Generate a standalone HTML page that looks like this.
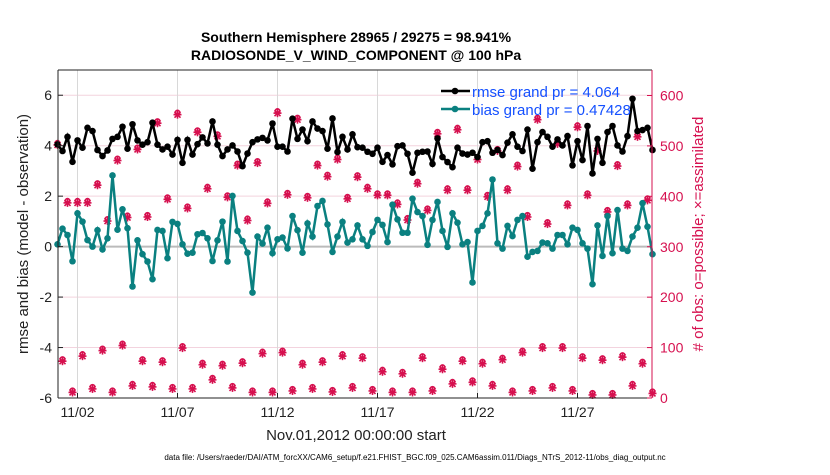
<!DOCTYPE html>
<html><head><meta charset="utf-8"><style>
body{margin:0;background:#fff;width:830px;height:470px;overflow:hidden;font-family:"Liberation Sans",sans-serif}
</style></head><body>
<svg id="chart" width="830" height="470" xmlns="http://www.w3.org/2000/svg" font-family="Liberation Sans, sans-serif"></svg>
<script>
const rmseValues=[4.05,3.79,4.35,3.36,4.21,3.92,4.71,4.58,3.83,3.59,3.81,4.27,4.35,4.75,3.88,4.85,4.21,4.04,4.14,4.91,4.04,3.85,3.96,3.65,4.23,3.32,4.23,3.65,4.06,4.33,4.09,4.96,4.04,3.59,3.85,4.01,3.77,3.19,3.69,4.14,4.25,
4.31,4.21,4.88,3.96,3.96,3.77,5.07,4.27,4.64,4.18,4.96,4.68,4.58,3.88,5.08,3.75,4.35,3.85,4.45,3.94,3.92,3.76,3.68,3.92,3.36,3.63,3.26,3.98,4.01,3.68,2.93,3.72,3.76,3.77,3.28,4.29,3.55,3.35,3.15,3.92,
3.69,3.65,3.72,3.55,4.14,4.18,3.72,3.83,3.63,4.12,4.45,3.96,3.79,4.64,3.09,4.14,4.54,4.35,3.96,4.25,4.01,4.38,3.22,4.18,3.43,4.78,2.90,4.27,3.32,4.54,4.78,4.01,3.77,4.38,5.86,4.58,4.62,4.71,3.83];
const biasValues=[0.09,0.71,0.46,-0.58,1.32,0.99,0.26,0,0.65,-0.11,0.33,2.82,0.67,1.48,0.73,-1.58,0.25,-0.30,-0.59,-1.29,0.66,0.62,-0.46,0.98,0.90,0.09,-0.28,-0.24,0.49,0.54,0.33,-0.57,0.25,0.99,-0.59,2.01,0.62,0.22,-0.24,-1.82,0.40,
0.12,0.75,-0.26,0.29,0.36,-0.07,1.21,0.65,-0.24,0.92,0.40,1.61,1.81,0.88,-0.21,0.40,0.98,0.16,0.29,0.84,0.29,0.03,0.58,1.06,0.86,0.18,1.66,1.08,0.55,0.55,1.90,1.37,1.21,0.07,1.06,1.77,0.62,-0.01,1.32,0.95,
0.09,0.18,-1.42,0.62,0.82,1.32,2.66,0.13,-0.08,0.82,0.42,1.06,1.21,-0.40,-0.21,-0.17,0.16,0.13,-0.08,0.46,0.46,0.09,0.75,0.66,0.13,-0.08,-1.49,0.84,-0.37,1.21,-0.26,1.45,-0.08,-0.17,0.40,0.75,1.72,0.79,-0.30];
const obsCounts=[502,73,387,11,387,83,387,18,422,94,351,11,471,104,358,24,493,73,359,22,545,71,394,18,562,99,376,18,527,66,415,36,519,64,398,20,461,69,352,11,466,
88,386,11,565,90,403,14,552,66,397,18,461,71,439,12,473,83,395,20,438,79,415,14,402,52,402,11,384,48,353,11,425,79,372,14,524,57,412,28,532,
73,412,31,473,68,399,24,490,76,412,11,459,90,359,14,552,99,345,20,504,99,382,14,537,79,402,6,490,75,369,6,460,81,382,24,518,68,392,9];
const xTickDays=[1,6,11,16,21,26];
const xTickLabels=["11/02","11/07","11/12","11/17","11/22","11/27"];
const yTicks=[-6,-4,-2,0,2,4,6];
const yRightTicks=[0,100,200,300,400,500,600];
const stepDays=0.25;

const svg=document.getElementById('chart');
const NS='http://www.w3.org/2000/svg';
const L=58,R=652,T=70,B=398;
const xs=d=>57.5+d*20;
const yL=v=>B-(v+6)/13*(B-T);
const yR=v=>B-v/600*(B-95.5);
const PINK='#d6104f',TEAL='#0a8080';
function el(tag,attrs,parent){const e=document.createElementNS(NS,tag);for(const k in attrs)e.setAttribute(k,attrs[k]);(parent||svg).appendChild(e);return e;}
function txt(s,attrs,parent){const e=el('text',attrs,parent);e.textContent=s;return e;}

yTicks.forEach(v=>{const g=el('line',{x1:L,x2:R,y1:yL(v),y2:yL(v),stroke:'#f3d3de','stroke-width':1});

});
xTickDays.forEach(d=>{const g=el('line',{x1:xs(d),x2:xs(d),y1:T,y2:B,stroke:'#d8d8d8','stroke-width':1});

});
const zl=el('line',{x1:L,x2:R,y1:yL(0),y2:yL(0),stroke:'#bbbbbb','stroke-width':2});



obsCounts.forEach((c,i)=>{const x=xs(i*stepDays),y=yR(c);const g=el('g',{stroke:PINK,'stroke-width':1.6,fill:'none'});


el('circle',{cx:x,cy:y-2,r:2.3},g);
el('line',{x1:x-4,x2:x+4,y1:y,y2:y},g);el('line',{x1:x,x2:x,y1:y-4,y2:y+4},g);
el('line',{x1:x-3,x2:x+3,y1:y-3,y2:y+3},g);el('line',{x1:x-3,x2:x+3,y1:y+3,y2:y-3},g);});

function series(vals,color,name){const pts=vals.map((v,i)=>[xs(i*stepDays),yL(v)]);
const p=el('polyline',{points:pts.map(p=>p.join(',')).join(' '),fill:'none',stroke:color,'stroke-width':2.5});


pts.forEach(q=>{const c=el('circle',{cx:q[0],cy:q[1],r:3.3,fill:color});

});}
series(biasValues,TEAL,'bias');
series(rmseValues,'#000','rmse');

const ax=el('g',{});


el('line',{x1:L,x2:R,y1:T,y2:T,stroke:'#222'},ax);
el('line',{x1:L,x2:R,y1:B,y2:B,stroke:'#222'},ax);
el('line',{x1:L,x2:L,y1:T,y2:B,stroke:'#222'},ax);
el('line',{x1:R,x2:R,y1:T,y2:B,stroke:PINK},ax);
yTicks.forEach(v=>{el('line',{x1:L,x2:L+5,y1:yL(v),y2:yL(v),stroke:'#222'},ax);
const t=txt(String(v),{x:L-6,y:yL(v)+5,'text-anchor':'end','font-size':14,fill:'#222'});

});
yRightTicks.forEach(v=>{el('line',{x1:R-5,x2:R,y1:yR(v),y2:yR(v),stroke:PINK},ax);
const t=txt(String(v),{x:R+8,y:yR(v)+5,'font-size':14,fill:PINK});

});
xTickDays.forEach((d,i)=>{el('line',{x1:xs(d),x2:xs(d),y1:B-5,y2:B,stroke:'#222'},ax);
const t=txt(xTickLabels[i],{x:xs(d),y:B+19,'text-anchor':'middle','font-size':14,fill:'#222'});

});
</script>
<svg style="position:absolute;left:0;top:0" width="830" height="470" xmlns="http://www.w3.org/2000/svg" font-family="Liberation Sans, sans-serif">
<text x="356" y="42" text-anchor="middle" font-size="14" font-weight="bold" fill="#000">Southern Hemisphere 28965 / 29275 = 98.941%</text>
<text x="356" y="60" text-anchor="middle" font-size="14" font-weight="bold" fill="#000">RADIOSONDE_V_WIND_COMPONENT @ 100 hPa</text>
<text transform="translate(28,234) rotate(-90)" text-anchor="middle" font-size="15" fill="#222">rmse and bias (model - observation)</text>
<text transform="translate(703,234) rotate(-90)" text-anchor="middle" font-size="15" fill="#d6104f"># of obs: o=possible; ×=assimilated</text>
<text x="356" y="440" text-anchor="middle" font-size="15" fill="#222">Nov.01,2012 00:00:00 start</text>
<text x="415" y="460" text-anchor="middle" font-size="8" fill="#000">data file: /Users/raeder/DAI/ATM_forcXX/CAM6_setup/f.e21.FHIST_BGC.f09_025.CAM6assim.011/Diags_NTrS_2012-11/obs_diag_output.nc</text>
<g>
<line x1="441" x2="470" y1="91" y2="91" stroke="#000" stroke-width="2.5"/><circle cx="455" cy="91" r="3.3" fill="#000"/>
<text x="472" y="97" font-size="15" fill="#1450ff">rmse grand pr = 4.064</text>
<line x1="441" x2="470" y1="109" y2="109" stroke="#0a8080" stroke-width="2.5"/><circle cx="455" cy="109" r="3.3" fill="#0a8080"/>
<text x="472" y="115" font-size="15" fill="#1450ff">bias grand pr = 0.47428</text>
</g>
</svg>
</body></html>
